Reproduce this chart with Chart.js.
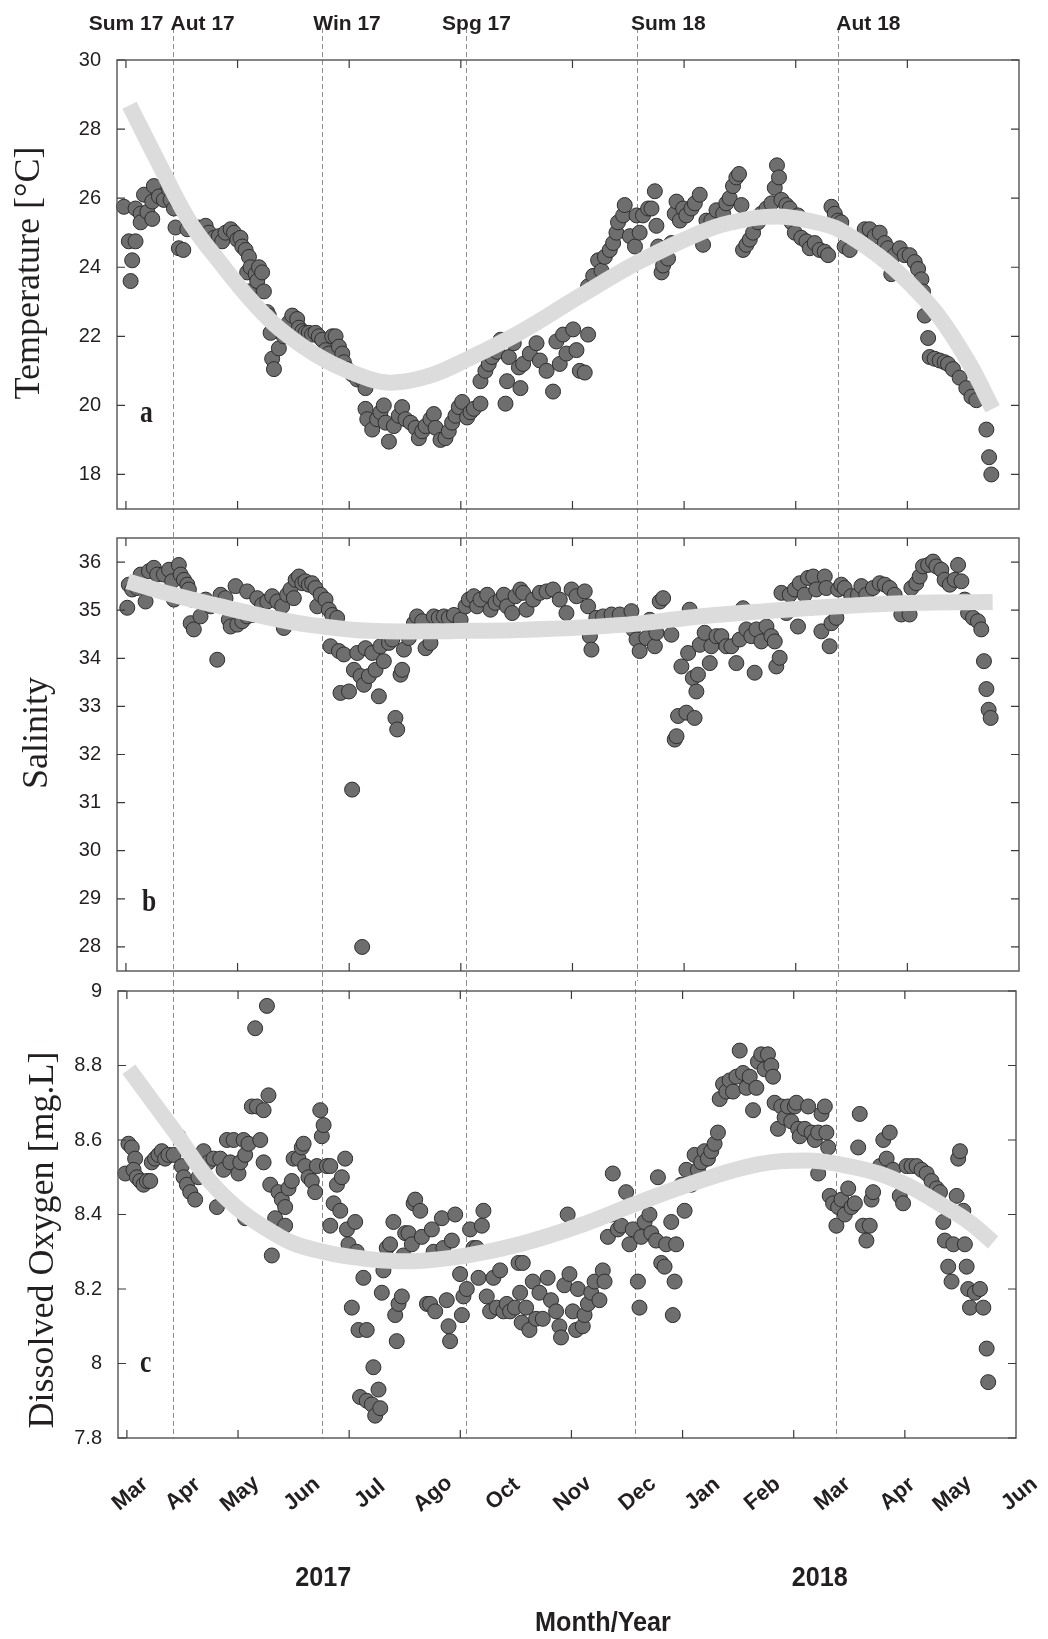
<!DOCTYPE html>
<html>
<head>
<meta charset="utf-8">
<script src="https://cdn.jsdelivr.net/npm/chart.js@4.4.0/dist/chart.umd.min.js"></script>
<style>
  html, body { margin: 0; padding: 0; background: #fff; }
  #fig { position: relative; width: 1048px; height: 1639px; }
  .panel { position: absolute; left: 0; width: 1048px; }
</style>
</head>
<body>
<div id="fig">
  <div class="panel" style="top:0;height:524px"><canvas id="chart-a"></canvas></div>
  <div class="panel" style="top:524px;height:457px"><canvas id="chart-b"></canvas></div>
  <div class="panel" style="top:981px;height:658px"><canvas id="chart-c"></canvas></div>
</div>
<script>
// x = sampling day, 0 = first tick (early Mar 2017), one tick every 50 days
const xTicks = [0, 50, 100, 150, 200, 250, 300, 350];

const seasonNames = ["Sum 17", "Aut 17", "Win 17", "Spg 17", "Sum 18", "Aut 18"];
const seasonLabelDay = [-16.7, 20.0, 83.9, 141.6, 226.2, 318.2];
const seasonLineDay = [20.9, 88.0, 152.4, 228.8, 319.1];

const monthNames = ["Mar", "Apr", "May", "Jun", "Jul", "Ago", "Oct", "Nov", "Dec", "Jan", "Feb", "Mar", "Apr", "May", "Jun"];
const monthDay = [1.5, 25.3, 50.9, 78.8, 109.4, 137.7, 169.2, 200.6, 229.8, 259.0, 286.0, 317.5, 346.7, 371.4, 401.6];
const yearNames = ["2017", "2018"];
const yearDay = [88.3, 311.7];

// (a) temperature
const tempTicks = [18, 20, 22, 24, 26, 28, 30];
const tempDay = [-0.9, 1.3, 2.1, 2.8, 4.3, 4.3, 6.6, 6.6, 8.1, 9.6, 11.8, 11.8, 12.5, 14.8, 17.0, 19.3, 20.0, 21.5, 22.2, 23.0,
  23.7, 25.7, 27.5, 30.4, 32.7, 34.2, 35.7, 37.2, 39.4, 41.6, 43.1, 44.6, 46.9, 48.4, 49.9, 51.3, 52.1, 53.6, 54.3, 55.1,
  55.8, 55.1, 58.1, 58.8, 59.6, 61.0, 61.8, 63.3, 64.0, 64.8, 65.5, 66.3, 68.5, 70.7, 71.5, 73.0, 74.5, 76.7, 77.5, 79.0,
  80.4, 81.9, 83.4, 84.9, 86.4, 87.9, 89.4, 90.9, 92.4, 93.9, 95.4, 96.9, 97.6, 99.1, 101.3, 103.6, 105.8, 107.3, 107.3, 108.1,
  110.3, 112.5, 114.0, 115.5, 116.3, 117.8, 120.0, 122.2, 123.7, 125.2, 127.5, 129.7, 131.2, 132.7, 134.2, 136.4, 137.9, 138.7, 140.9, 143.1,
  144.6, 146.1, 147.6, 149.1, 150.6, 152.8, 154.3, 155.8, 158.8, 158.8, 161.0, 162.5, 164.0, 166.3, 167.8, 170.0, 170.7, 171.5, 173.7, 176.0,
  176.7, 177.9, 180.9, 183.9, 185.4, 188.4, 191.3, 192.8, 194.3, 195.8, 197.3, 200.3, 201.8, 203.3, 205.5, 207.0, 207.0, 209.3, 211.5, 213.0,
  214.5, 216.7, 218.2, 219.7, 220.4, 222.7, 223.4, 225.7, 228.0, 228.7, 230.1, 231.6, 233.9, 235.4, 236.9, 237.6, 238.4, 239.9, 240.6, 242.8,
  244.3, 245.8, 246.6, 248.1, 249.6, 251.0, 253.3, 254.8, 257.0, 258.5, 260.0, 262.2, 264.5, 267.5, 268.9, 270.4, 271.9, 273.4, 274.6, 275.7,
  276.4, 277.9, 279.4, 280.9, 283.1, 284.6, 286.9, 289.1, 290.6, 291.6, 292.5, 293.6, 295.8, 297.3, 298.1, 299.6, 301.0, 302.5, 304.8, 306.3,
  308.5, 310.7, 313.0, 314.5, 316.0, 317.5, 319.0, 320.4, 321.9, 324.2, 330.9, 333.1, 335.4, 337.6, 339.9, 341.3, 342.8, 344.3, 346.6, 348.8,
  351.0, 353.3, 354.8, 356.3, 357.0, 357.8, 359.3, 360.0, 362.2, 364.5, 366.7, 368.2, 370.4, 373.4, 376.4, 378.7, 380.9, 385.4, 386.6, 387.6];
const tempVal = [25.75, 24.75, 23.6, 24.2, 24.75, 25.7, 25.55, 25.3, 26.1, 25.6, 25.4, 25.9, 26.35, 26.05, 25.95, 26.25, 25.95, 25.7, 25.15, 25.9,
  24.55, 24.5, 25.1, 25.1, 25.15, 25.0, 25.2, 25.0, 24.85, 24.9, 24.75, 25.0, 25.1, 25.0, 24.8, 24.85, 24.6, 24.5, 23.85, 24.3,
  24.0, 23.3, 23.8, 23.6, 24.0, 23.85, 23.3, 22.7, 22.6, 22.1, 21.35, 21.05, 21.65, 22.0, 22.25, 22.4, 22.6, 22.5, 22.25, 22.15,
  22.1, 22.1, 22.05, 22.1, 22.0, 21.9, 21.6, 21.5, 22.0, 22.0, 21.7, 21.5, 21.25, 21.05, 20.9, 20.75, 20.75, 20.5, 19.9, 19.6,
  19.3, 19.6, 19.8, 20.0, 19.5, 18.95, 19.4, 19.7, 19.95, 19.6, 19.5, 19.35, 19.05, 19.25, 19.4, 19.6, 19.75, 19.35, 19.0, 19.05,
  19.25, 19.5, 19.7, 19.95, 20.1, 19.65, 19.8, 19.9, 20.05, 20.7, 21.0, 21.2, 21.4, 21.55, 21.9, 20.05, 20.7, 21.4, 21.8, 21.1,
  20.5, 21.2, 21.5, 21.8, 21.3, 21.0, 20.4, 21.85, 21.2, 22.05, 21.5, 22.2, 21.6, 21.0, 20.95, 22.05, 23.45, 23.75, 24.2, 23.9,
  24.3, 24.5, 24.7, 25.0, 25.3, 25.5, 25.8, 24.9, 24.6, 25.5, 25.0, 25.5, 25.7, 25.7, 26.2, 25.2, 24.6, 23.85, 24.05, 24.25,
  24.7, 25.55, 25.9, 25.35, 25.7, 25.5, 25.7, 25.85, 26.1, 24.65, 25.35, 25.35, 25.65, 25.55, 25.85, 26.0, 26.35, 26.6, 26.7, 25.8,
  24.5, 24.65, 24.8, 25.0, 25.3, 25.55, 25.7, 25.85, 26.3, 26.95, 26.6, 25.95, 25.8, 25.7, 25.3, 25.0, 25.5, 24.85, 24.75, 24.55,
  24.7, 24.5, 24.45, 24.35, 25.75, 25.55, 25.35, 25.3, 24.6, 24.5, 25.1, 25.1, 24.9, 25.0, 24.7, 24.55, 23.8, 24.35, 24.55, 24.35,
  24.35, 24.15, 23.95, 23.65, 23.3, 22.6, 21.95, 21.4, 21.35, 21.3, 21.25, 21.2, 21.05, 20.8, 20.5, 20.25, 20.15, 19.3, 18.5, 18.0];
const tempFitDay = [1.6, 15.5, 28.9, 42.3, 55.7, 69.1, 88.4, 109.3, 120.0, 136.1, 153.0, 176.4, 203.2, 228.9, 256.8,
  270.2, 291.7, 310.4, 319.3, 337.3, 350.7, 364.0, 377.5, 388.2];
const tempFitVal = [28.69, 26.91, 25.28, 24.13, 23.07, 22.2, 21.34, 20.76, 20.66, 20.86, 21.34, 22.11, 23.16, 24.13, 24.99,
  25.28, 25.47, 25.28, 25.09, 24.32, 23.55, 22.59, 21.24, 19.9];

// (b) salinity
const salTicks = [28, 29, 30, 31, 32, 33, 34, 35, 36];
const salDay = [0.6, 1.3, 2.8, 5.1, 6.6, 8.8, 10.3, 12.5, 14.0, 17.0, 19.3, 20.7, 21.5, 23.7, 24.5, 26.0, 27.5, 28.2, 29.0, 29.7,
  30.4, 33.4, 35.7, 37.9, 40.9, 42.4, 44.6, 46.1, 46.9, 49.1, 49.9, 52.1, 54.3, 54.3, 56.6, 58.8, 61.0, 63.3, 65.5, 67.8,
  70.0, 70.7, 72.2, 73.7, 75.2, 76.0, 77.5, 79.0, 80.4, 81.9, 83.4, 84.9, 85.7, 87.2, 89.4, 90.9, 91.6, 92.4, 94.6, 95.4,
  96.1, 97.6, 99.9, 101.3, 102.1, 103.6, 105.1, 105.8, 106.6, 107.3, 108.8, 110.3, 111.8, 113.3, 114.0, 115.5, 117.8, 119.3, 120.7, 121.5,
  123.0, 123.7, 124.5, 126.7, 129.0, 130.4, 132.7, 134.2, 136.4, 137.9, 140.1, 142.4, 144.6, 146.9, 149.9, 152.1, 153.6, 155.8, 157.3, 158.8,
  161.8, 163.3, 165.5, 167.8, 169.3, 170.7, 173.0, 174.5, 176.7, 177.9, 179.4, 182.4, 185.4, 188.4, 191.3, 194.3, 197.3, 199.6, 201.8, 205.5,
  207.0, 207.8, 208.5, 210.7, 213.7, 217.5, 221.2, 226.4, 227.2, 228.7, 230.1, 233.1, 234.6, 236.9, 237.6, 239.1, 240.6, 244.3, 245.8, 246.6,
  247.3, 248.8, 251.0, 251.8, 252.5, 253.9, 254.7, 255.5, 256.2, 257.0, 259.2, 261.5, 262.2, 264.5, 266.7, 268.9, 271.2, 273.4, 274.9, 276.4,
  277.9, 280.1, 281.6, 282.4, 284.6, 286.9, 289.1, 290.6, 291.3, 292.8, 293.6, 295.8, 297.3, 299.6, 301.0, 301.8, 304.0, 305.5, 307.8, 309.2,
  311.5, 313.0, 313.7, 315.2, 316.0, 318.2, 319.0, 320.4, 321.9, 324.9, 327.9, 329.4, 331.6, 334.6, 337.6, 339.9, 342.1, 344.3, 347.3, 351.0,
  351.8, 354.0, 355.5, 357.0, 359.3, 361.5, 363.0, 365.2, 366.7, 369.0, 371.2, 372.7, 374.2, 375.7, 377.2, 379.4, 381.6, 383.1, 384.3, 385.4,
  386.4, 387.3];
const salVal = [35.05, 35.53, 35.43, 35.46, 35.74, 35.18, 35.81, 35.88, 35.74, 35.74, 35.84, 35.6, 35.22, 35.94, 35.74, 35.63, 35.53, 35.43, 34.73, 35.22,
  34.6, 34.87, 35.22, 35.08, 33.97, 35.32, 35.25, 34.8, 34.66, 35.5, 34.7, 34.77, 35.39, 34.87, 34.9, 35.25, 35.11, 35.18, 35.29, 35.18,
  35.08, 34.63, 35.32, 35.43, 35.25, 35.63, 35.7, 35.56, 35.6, 35.53, 35.56, 35.46, 35.08, 35.32, 35.22, 35.01, 34.25, 34.9, 34.84, 34.15,
  33.28, 34.08, 33.31, 31.27, 33.76, 34.11, 33.63, 28.0, 33.45, 34.21, 33.63, 34.11, 33.76, 33.21, 34.25, 33.94, 34.32, 34.39, 32.76, 32.52,
  33.66, 33.76, 34.18, 34.42, 34.73, 34.87, 34.77, 34.21, 34.32, 34.87, 34.84, 34.87, 34.84, 34.9, 34.8, 35.08, 35.22, 35.29, 35.08, 35.22,
  35.32, 35.01, 35.15, 35.22, 35.32, 35.08, 34.94, 35.29, 35.43, 35.36, 35.01, 35.22, 35.36, 35.39, 35.43, 35.22, 34.94, 35.43, 35.29, 35.39,
  35.08, 34.46, 34.18, 34.84, 34.87, 34.91, 34.91, 34.98, 34.6, 34.39, 34.15, 34.42, 34.8, 34.25, 34.53, 35.18, 35.25, 34.49, 32.31, 32.38,
  32.8, 33.83, 32.87, 34.11, 35.01, 33.59, 32.76, 33.31, 33.66, 34.28, 34.53, 33.9, 34.25, 34.46, 34.46, 34.25, 34.25, 33.9, 34.39, 35.04,
  34.6, 34.46, 33.7, 34.6, 34.35, 34.66, 34.46, 34.35, 33.83, 34.01, 35.36, 34.94, 35.32, 35.43, 34.66, 35.56, 35.32, 35.67, 35.7, 35.43,
  34.56, 35.7, 35.46, 34.25, 34.73, 34.84, 35.43, 35.53, 35.46, 35.29, 35.32, 35.5, 35.32, 35.46, 35.56, 35.53, 35.46, 35.32, 34.91, 34.91,
  35.46, 35.56, 35.7, 35.91, 35.94, 36.01, 35.91, 35.84, 35.63, 35.53, 35.63, 35.94, 35.6, 35.22, 34.94, 34.84, 34.77, 34.6, 33.94, 33.36,
  32.93, 32.76];
const salFitDay = [0.8, 21.1, 42.3, 69.1, 88.4, 109.3, 136.1, 153.0, 176.4, 203.2, 228.9, 256.8, 283.6, 319.3, 350.7, 388.2];
const salFitVal = [35.6, 35.32, 35.08, 34.8, 34.66, 34.57, 34.56, 34.57, 34.59, 34.64, 34.72, 34.87, 34.97, 35.08, 35.15, 35.17];

// (c) dissolved oxygen
const oxyTicks = [7.8, 8, 8.2, 8.4, 8.6, 8.8, 9];
const oxyDay = [-0.7, 0.7, 2.2, 3.7, 3.0, 4.5, 6.0, 7.5, 9.0, 10.5, 11.2, 12.7, 14.2, 15.7, 17.2, 18.7, 21.0, 23.2, 24.7, 25.5,
  27.0, 28.5, 30.7, 32.2, 34.5, 36.7, 39.0, 40.5, 42.0, 43.5, 45.0, 46.5, 48.0, 50.2, 51.0, 52.5, 53.2, 54.7, 56.2, 57.7,
  58.5, 60.0, 61.5, 61.5, 63.0, 63.7, 53.2, 64.5, 65.2, 66.7, 68.2, 69.7, 71.2, 71.2, 72.7, 74.2, 75.0, 77.2, 78.7, 79.5,
  80.2, 81.7, 83.2, 84.7, 85.5, 87.0, 87.7, 88.5, 90.0, 91.5, 91.5, 93.0, 94.5, 96.0, 96.7, 98.2, 99.0, 99.7, 101.2, 102.7,
  103.4, 104.2, 106.4, 107.9, 104.9, 107.9, 110.2, 110.9, 111.7, 113.2, 114.0, 114.7, 115.4, 116.9, 118.4, 119.9, 120.7, 121.4, 122.2, 123.7,
  124.4, 125.2, 126.7, 128.2, 129.0, 129.7, 132.0, 132.7, 135.0, 136.4, 137.2, 138.0, 138.7, 141.7, 142.4, 143.9, 144.7, 145.4, 146.2, 147.7,
  149.9, 150.7, 151.4, 152.9, 154.4, 155.9, 157.4, 158.2, 159.7, 160.4, 161.9, 163.4, 164.9, 166.4, 167.9, 169.4, 170.9, 172.4, 174.6, 176.2,
  176.9, 177.6, 178.1, 179.6, 181.1, 182.6, 184.1, 185.6, 187.1, 189.3, 190.8, 193.1, 194.6, 195.3, 196.8, 198.3, 199.1, 200.6, 202.1, 202.9,
  205.1, 205.9, 207.4, 208.9, 210.4, 212.6, 214.1, 214.9, 216.4, 217.9, 218.6, 220.9, 222.4, 224.6, 226.1, 227.6, 229.9, 230.6, 231.4, 232.9,
  235.1, 235.9, 238.1, 238.9, 240.4, 241.9, 242.6, 244.9, 245.6, 246.4, 247.1, 249.4, 250.9, 251.7, 253.9, 255.4, 256.9, 258.4, 259.9, 261.4,
  262.9, 264.4, 265.9, 266.7, 268.2, 269.7, 271.2, 272.7, 274.2, 275.7, 277.2, 278.7, 280.2, 281.7, 283.2, 283.9, 285.4, 286.9, 288.4, 289.9,
  290.7, 291.4, 292.9, 294.4, 295.9, 297.4, 298.9, 300.5, 301.2, 302.0, 302.7, 305.0, 306.5, 308.0, 309.5, 311.0, 311.0, 312.5, 314.0, 314.7,
  315.5, 316.2, 317.7, 319.2, 320.0, 321.5, 323.0, 324.5, 326.0, 327.5, 329.0, 329.7, 331.2, 332.7, 334.2, 335.0, 335.7, 338.8, 340.3, 341.8,
  343.2, 344.7, 347.7, 349.2, 350.8, 353.0, 355.3, 357.5, 359.8, 362.0, 364.3, 365.8, 367.3, 368.0, 369.5, 371.0, 371.8, 373.3, 374.0, 374.8,
  376.3, 377.0, 377.8, 378.5, 379.3, 381.5, 383.8, 385.3, 386.8, 387.5];
const oxyVal = [8.51, 8.59, 8.58, 8.55, 8.52, 8.50, 8.49, 8.48, 8.49, 8.49, 8.54, 8.55, 8.56, 8.57, 8.55, 8.56, 8.56, 8.61, 8.53, 8.50,
  8.48, 8.46, 8.44, 8.50, 8.57, 8.54, 8.55, 8.42, 8.55, 8.52, 8.60, 8.54, 8.60, 8.51, 8.54, 8.60, 8.56, 8.59, 8.69, 8.90,
  8.69, 8.60, 8.68, 8.54, 8.96, 8.72, 8.39, 8.48, 8.29, 8.39, 8.46, 8.44, 8.42, 8.37, 8.47, 8.49, 8.55, 8.55, 8.58, 8.59,
  8.53, 8.50, 8.49, 8.46, 8.53, 8.68, 8.61, 8.64, 8.53, 8.53, 8.37, 8.43, 8.48, 8.41, 8.50, 8.55, 8.36, 8.32, 8.15, 8.38,
  8.30, 8.09, 8.23, 8.09, 7.91, 7.90, 7.89, 7.99, 7.86, 7.93, 7.88, 8.19, 8.25, 8.31, 8.32, 8.38, 8.13, 8.06, 8.16, 8.18,
  8.29, 8.35, 8.35, 8.32, 8.43, 8.44, 8.41, 8.34, 8.16, 8.16, 8.36, 8.30, 8.14, 8.39, 8.31, 8.17, 8.10, 8.06, 8.33, 8.40,
  8.24, 8.13, 8.18, 8.20, 8.36, 8.31, 8.31, 8.23, 8.37, 8.41, 8.18, 8.14, 8.23, 8.15, 8.25, 8.14, 8.16, 8.14, 8.15, 8.27,
  8.19, 8.11, 8.27, 8.15, 8.09, 8.22, 8.12, 8.19, 8.12, 8.23, 8.17, 8.14, 8.10, 8.07, 8.21, 8.40, 8.24, 8.14, 8.09, 8.20,
  8.10, 8.13, 8.16, 8.19, 8.22, 8.17, 8.25, 8.22, 8.34, 8.40, 8.51, 8.36, 8.37, 8.46, 8.32, 8.36, 8.22, 8.15, 8.34, 8.38,
  8.40, 8.35, 8.33, 8.50, 8.27, 8.26, 8.32, 8.38, 8.13, 8.22, 8.32, 8.48, 8.41, 8.52, 8.48, 8.56, 8.52, 8.54, 8.57, 8.55,
  8.57, 8.59, 8.62, 8.71, 8.75, 8.73, 8.76, 8.73, 8.77, 8.84, 8.78, 8.74, 8.77, 8.68, 8.74, 8.81, 8.83, 8.79, 8.83, 8.80,
  8.77, 8.70, 8.63, 8.69, 8.66, 8.69, 8.65, 8.69, 8.70, 8.63, 8.61, 8.63, 8.69, 8.62, 8.60, 8.51, 8.62, 8.67, 8.69, 8.62,
  8.58, 8.45, 8.43, 8.37, 8.42, 8.44, 8.40, 8.47, 8.42, 8.43, 8.58, 8.67, 8.37, 8.33, 8.37, 8.44, 8.46, 8.53, 8.60, 8.55,
  8.62, 8.52, 8.45, 8.43, 8.53, 8.53, 8.53, 8.52, 8.51, 8.49, 8.47, 8.46, 8.38, 8.33, 8.26, 8.22, 8.32, 8.45, 8.55, 8.57,
  8.41, 8.32, 8.26, 8.20, 8.15, 8.19, 8.20, 8.15, 8.04, 7.95];
const oxyFitDay = [0.9, 20.6, 41.9, 68.9, 88.3, 109.3, 130.8, 153.2, 176.7, 203.6, 229.5, 257.6, 284.5, 306.1, 320.4, 338.4, 351.9, 365.4, 378.9, 389.7];
const oxyFitVal = [8.79, 8.63, 8.46, 8.34, 8.30, 8.28, 8.275, 8.29, 8.32, 8.37, 8.43, 8.49, 8.535, 8.545, 8.535, 8.51, 8.476, 8.43, 8.38, 8.325];

const INK = "#231f20";
const SANS = "'Liberation Sans', Arial, sans-serif";
const SERIF = "'Liberation Serif', 'Times New Roman', serif";

function makeDeco(p) {
  return {
    id: "panelDeco",
    beforeDatasetsDraw(chart) {
      const ctx = chart.ctx, xs = chart.scales.x, a = chart.chartArea;
      ctx.save();
      ctx.strokeStyle = "#8c8c8c";
      ctx.lineWidth = 1;
      ctx.setLineDash([5, 3]);
      const y0 = p.lineTop, y1 = p.lineToArea ? a.bottom : chart.height;
      seasonLineDay.forEach(d => {
        const x = Math.round(xs.getPixelForValue(d)) + 0.5;
        ctx.beginPath(); ctx.moveTo(x, y0); ctx.lineTo(x, y1); ctx.stroke();
      });
      ctx.restore();
    },
    afterDraw(chart) {
      const ctx = chart.ctx, xs = chart.scales.x, ys = chart.scales.y, a = chart.chartArea;
      ctx.save();
      // frame + inward ticks
      ctx.strokeStyle = "#5e5e5e";
      ctx.lineWidth = 1.5;
      ctx.strokeRect(a.left, a.top, a.right - a.left, a.bottom - a.top);
      ctx.lineWidth = 1.2;
      ctx.strokeStyle = "#3a3a3a";
      ctx.beginPath();
      ys.ticks.forEach(t => {
        const y = ys.getPixelForValue(t.value);
        ctx.moveTo(a.left, y); ctx.lineTo(a.left + 8, y);
        ctx.moveTo(a.right, y); ctx.lineTo(a.right - 8, y);
      });
      xTicks.forEach(v => {
        const x = xs.getPixelForValue(v);
        ctx.moveTo(x, a.top); ctx.lineTo(x, a.top + 8);
        ctx.moveTo(x, a.bottom); ctx.lineTo(x, a.bottom - 8);
      });
      ctx.stroke();

      ctx.fillStyle = INK;
      // y title
      ctx.save();
      ctx.translate(p.titleX, p.titleY);
      ctx.rotate(-Math.PI / 2);
      ctx.font = "36px " + SERIF;
      ctx.textAlign = "center";
      ctx.textBaseline = "middle";
      ctx.fillText(p.title, 0, 0);
      ctx.restore();

      // panel letter
      ctx.save();
      ctx.translate(p.letterX, p.letterY);
      ctx.scale(0.8, 1);
      ctx.font = "bold 32px " + SERIF;
      ctx.textAlign = "left";
      ctx.textBaseline = "alphabetic";
      ctx.fillText(p.letter, 0, 0);
      ctx.restore();

      if (p.seasons) {
        ctx.font = "bold 21px " + SANS;
        ctx.textAlign = "left";
        ctx.textBaseline = "alphabetic";
        seasonNames.forEach((s, i) => ctx.fillText(s, xs.getPixelForValue(seasonLabelDay[i]), 30));
      }

      if (p.months) {
        ctx.font = "bold 22px " + SANS;
        ctx.textAlign = "center";
        ctx.textBaseline = "middle";
        monthNames.forEach((m, i) => {
          ctx.save();
          ctx.translate(xs.getPixelForValue(monthDay[i]), 513);
          ctx.rotate(-40 * Math.PI / 180);
          ctx.fillText(m, 0, 0);
          ctx.restore();
        });
        ctx.font = "bold 28px " + SANS;
        yearNames.forEach((yn, i) => {
          ctx.save();
          ctx.translate(xs.getPixelForValue(yearDay[i]), 597);
          ctx.scale(0.9, 1);
          ctx.fillText(yn, 0, 0);
          ctx.restore();
        });
        ctx.save();
        ctx.translate(603, 642);
        ctx.scale(0.9, 1);
        ctx.fillText("Month/Year", 0, 0);
        ctx.restore();
      }
      ctx.restore();
    }
  };
}

function panel(canvasId, p) {
  const pts = p.day.map((d, i) => ({ x: d, y: p.val[i] }));
  const fit = p.fitDay.map((d, i) => ({ x: d, y: p.fitVal[i] }));
  return new Chart(document.getElementById(canvasId), {
    type: "scatter",
    data: {
      datasets: [
        {
          type: "line",
          data: fit,
          borderColor: "#dcdcdc",
          borderWidth: 16,
          borderCapStyle: "butt",
          pointRadius: 0,
          tension: 0.4,
          order: 0,
          clip: false,
        },
        {
          data: pts,
          backgroundColor: "#6e6e6e",
          borderColor: "#2e2e2e",
          borderWidth: 1,
          pointRadius: 7.5,
          order: 1,
          clip: false,
        },
      ],
    },
    options: {
      responsive: true,
      maintainAspectRatio: false,
      animation: false,
      events: [],
      layout: { padding: p.pad },
      plugins: { legend: { display: false }, tooltip: { enabled: false } },
      scales: {
        x: { type: "linear", min: -4, max: 400, display: false },
        y: {
          min: p.min,
          max: p.max,
          afterBuildTicks: s => { s.ticks = p.ticks.map(v => ({ value: v })); },
          afterFit: s => { s.width = p.left; s.paddingTop = 0; s.paddingBottom = 0; },
          grid: { display: false },
          border: { display: false },
          ticks: {
            padding: 8,
            color: INK,
            font: { family: SANS, size: 20 },
            callback: v => String(v),
          },
        },
      },
    },
    plugins: [makeDeco(p)],
  });
}

panel("chart-a", {
  day: tempDay, val: tempVal, fitDay: tempFitDay, fitVal: tempFitVal,
  min: 17, max: 30, ticks: tempTicks, left: 117,
  pad: { left: 0, right: 29, top: 60, bottom: 15 },
  title: "Temperature [°C]", titleX: 30, titleY: 273,
  letter: "a", letterX: 140, letterY: 422,
  lineTop: 28, lineToArea: false, seasons: true,
});
panel("chart-b", {
  day: salDay, val: salVal, fitDay: salFitDay, fitVal: salFitVal,
  min: 27.5, max: 36.5, ticks: salTicks, left: 117,
  pad: { left: 0, right: 29, top: 14, bottom: 10 },
  title: "Salinity", titleX: 38, titleY: 209,
  letter: "b", letterX: 142, letterY: 387,
  lineTop: 0, lineToArea: false,
});
panel("chart-c", {
  day: oxyDay, val: oxyVal, fitDay: oxyFitDay, fitVal: oxyFitVal,
  min: 7.8, max: 9, ticks: oxyTicks, left: 118,
  pad: { left: 0, right: 32, top: 10, bottom: 201 },
  title: "Dissolved Oxygen [mg.L]", titleX: 44, titleY: 259,
  letter: "c", letterX: 140, letterY: 391,
  lineTop: 0, lineToArea: true, months: true,
});
</script>
</body>
</html>
